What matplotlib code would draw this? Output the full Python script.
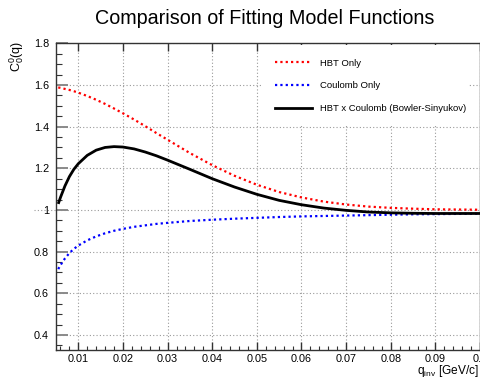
import matplotlib
matplotlib.use("Agg")
import matplotlib.pyplot as plt
from matplotlib.patches import Rectangle
from matplotlib.ticker import MultipleLocator, FixedLocator, FixedFormatter

plt.rcParams["font.family"] = ["Liberation Sans", "DejaVu Sans"]
plt.rcParams["mathtext.fontset"] = "custom"
plt.rcParams["mathtext.rm"] = "Liberation Sans"
plt.rcParams["mathtext.it"] = "Liberation Sans"
plt.rcParams["mathtext.default"] = "rm"

# q_inv sampling points [GeV/c]
q = [0.0055, 0.006, 0.007, 0.008, 0.009, 0.010, 0.012, 0.014, 0.016, 0.018,
     0.020, 0.0225, 0.025, 0.0275, 0.030, 0.035, 0.040, 0.045, 0.050, 0.055,
     0.060, 0.065, 0.070, 0.075, 0.080, 0.085, 0.090, 0.095, 0.100]

# HBT only (Gaussian correlation)
hbt = [1.588, 1.586, 1.581, 1.576, 1.570, 1.563, 1.547, 1.529, 1.509, 1.487,
       1.464, 1.434, 1.402, 1.369, 1.337, 1.273, 1.215, 1.164, 1.121, 1.086,
       1.060, 1.040, 1.026, 1.016, 1.010, 1.006, 1.003, 1.002, 1.001]

# Coulomb only
coulomb = [0.716, 0.735, 0.767, 0.793, 0.813, 0.829, 0.854, 0.873, 0.888, 0.900,
           0.909, 0.919, 0.926, 0.933, 0.938, 0.947, 0.953, 0.958, 0.962, 0.966,
           0.969, 0.971, 0.973, 0.975, 0.977, 0.979, 0.980, 0.981, 0.982]

# HBT x Coulomb (Bowler-Sinyukov)
combined = [1.029, 1.060, 1.115, 1.160, 1.195, 1.222, 1.262, 1.287, 1.300, 1.304,
            1.302, 1.293, 1.278, 1.260, 1.239, 1.195, 1.150, 1.110, 1.075, 1.046,
            1.025, 1.009, 0.998, 0.990, 0.986, 0.984, 0.983, 0.983, 0.983]

xticks = [0.01, 0.02, 0.03, 0.04, 0.05, 0.06, 0.07, 0.08, 0.09, 0.10]
xticklabels = ["0.01", "0.02", "0.03", "0.04", "0.05", "0.06", "0.07", "0.08", "0.09", "0.1"]
yticks = [0.4, 0.6, 0.8, 1.0, 1.2, 1.4, 1.6, 1.8]
yticklabels = ["0.4", "0.6", "0.8", "1", "1.2", "1.4", "1.6", "1.8"]

W, H = 480, 381
fig = plt.figure(figsize=(W / 100, H / 100), dpi=100)
ax = fig.add_axes([56 / W, 1 - 349.5 / H, (480 - 56) / W, (349.5 - 43.3) / H])
ax.set_xlim(0.005, 0.1)
ax.set_ylim(0.33, 1.8)

grid_kw = dict(color="#9a9a9a", lw=0.8, linestyle=(0, (1, 2)), zorder=1)
for xt in xticks:
    ax.axvline(xt, **grid_kw)
for yt in yticks:
    if yt != 1.0:
        ax.axhline(yt, **grid_kw)
# reference line at unity, drawn from q = 0
ax.plot([0.0, 0.1], [1.0, 1.0], clip_on=False, **grid_kw)

dot = (0, (1.0, 1.4))
ax.plot(q, coulomb, color="#0000ff", lw=1.6, linestyle=dot, zorder=3)
ax.plot(q, hbt, color="#ff0000", lw=1.6, linestyle=dot, zorder=3)
ax.plot(q, combined, color="black", lw=2.0, zorder=4, solid_capstyle="butt")

ax.xaxis.set_major_locator(FixedLocator(xticks))
ax.xaxis.set_major_formatter(FixedFormatter(xticklabels))
ax.xaxis.set_minor_locator(MultipleLocator(0.002))
ax.yaxis.set_major_locator(FixedLocator(yticks))
ax.yaxis.set_major_formatter(FixedFormatter(yticklabels))
ax.yaxis.set_minor_locator(MultipleLocator(0.05))

ax.tick_params(axis="x", which="major", direction="in", length=6, width=1.0,
               color="#333333", labelsize=7.8, pad=3, top=True)
ax.tick_params(axis="x", which="minor", direction="in", length=3, width=0.8,
               color="#333333", top=False)
ax.tick_params(axis="y", which="major", direction="in", length=8.5, width=1.4,
               color="#8a8a8a", labelsize=7.8, pad=5)
ax.tick_params(axis="y", which="minor", direction="in", length=4, width=0.8,
               color="#333333")
for s in ax.spines.values():
    s.set_color("#333333")
    s.set_linewidth(1.0)

# legend box
ax.add_patch(Rectangle((263, H - 124), 205, 79, transform=None,
                       facecolor="white", edgecolor="none", zorder=5))
handles = [
    plt.Line2D([], [], color="#ff0000", lw=1.6, linestyle=dot),
    plt.Line2D([], [], color="#0000ff", lw=1.6, linestyle=dot),
    plt.Line2D([], [], color="black", lw=2.0),
]
labels = ["HBT Only", "Coulomb Only", "HBT x Coulomb (Bowler-Sinyukov)"]
leg = fig.legend(handles, labels, loc="upper left",
                 bbox_to_anchor=(275 / W, 1 - 58.5 / H), frameon=False,
                 fontsize=6.8, handlelength=3.9, handletextpad=0.85,
                 labelspacing=1.45, borderpad=0, borderaxespad=0)
leg.set_zorder(6)

fig.text(265 / W, 1 - 18 / H, "Comparison of Fitting Model Functions",
         ha="center", va="center", fontsize=14.2)
fig.text(479 / W, 1 - 374 / H, r"q$_{\mathrm{inv}}$ [GeV/c]", ha="right",
         va="baseline", fontsize=8.6)
fig.text(17 / W, 1 - 41 / H, r"C$_{0}^{0}$(q)", rotation=90, ha="center",
         va="top", fontsize=9)

fig.savefig("out.png", dpi=100)
